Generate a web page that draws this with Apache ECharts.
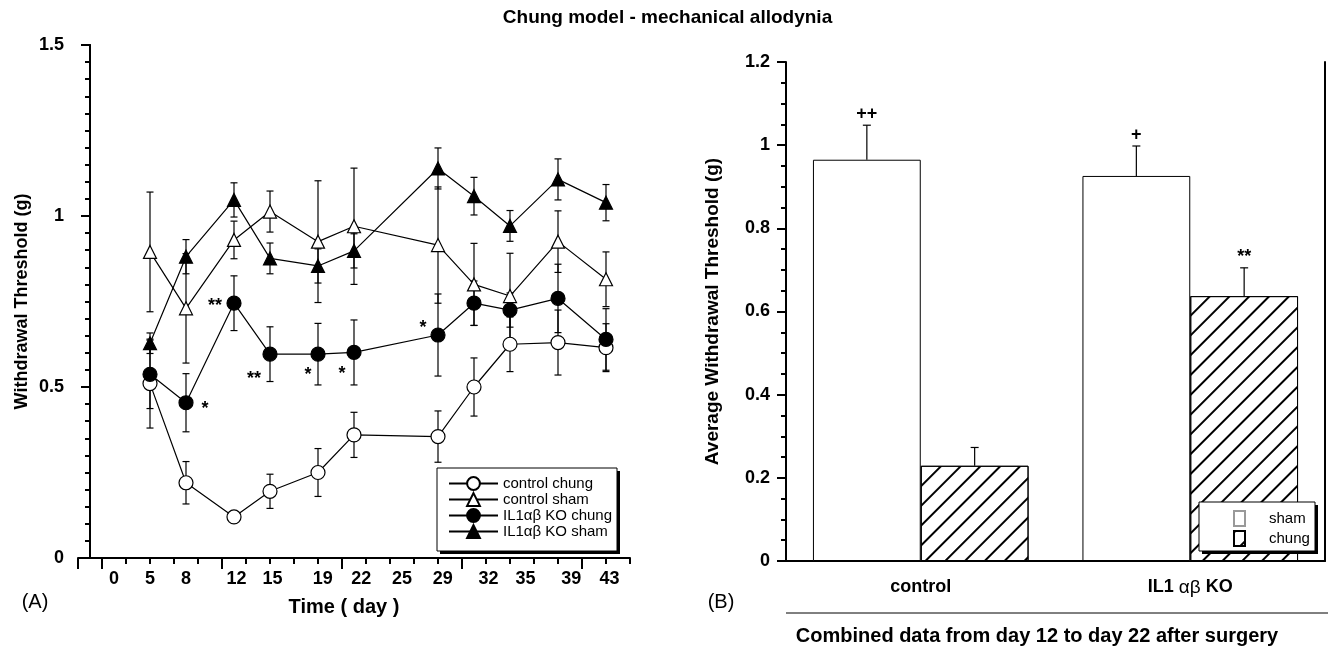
<!DOCTYPE html>
<html>
<head>
<meta charset="utf-8">
<script src="https://cdn.jsdelivr.net/npm/echarts@6/dist/echarts.min.js"></script>
<style>
  html, body { margin: 0; padding: 0; background: #fff; }
  #chart { width: 1335px; height: 646px; }
</style>
</head>
<body>
<div id="chart"></div>
<script>
// (A) time course, mean +/- SEM
var days = [5, 8, 12, 15, 19, 22, 29, 32, 35, 39, 43];
var controlChung = [0.51, 0.22, 0.12, 0.195, 0.25, 0.36, 0.355, 0.50, 0.625, 0.63, 0.615];
var controlChungErr = [0.13, 0.062, 0.015, 0.05, 0.07, 0.066, 0.075, 0.085, 0.08, 0.095, 0.07];
var controlSham = [0.895, 0.73, 0.93, 1.013, 0.925, 0.97, 0.915, 0.80, 0.766, 0.925, 0.815];
var controlShamErr = [0.175, 0.16, 0.055, 0.06, 0.178, 0.17, 0.17, 0.12, 0.125, 0.09, 0.08];
var koChung = [0.537, 0.454, 0.745, 0.596, 0.596, 0.601, 0.652, 0.745, 0.725, 0.759, 0.639];
var koChungErr = [0.1, 0.085, 0.08, 0.08, 0.09, 0.095, 0.12, 0.065, 0.05, 0.1, 0.09];
var koSham = [0.628, 0.881, 1.047, 0.876, 0.854, 0.898, 1.139, 1.058, 0.971, 1.107, 1.039];
var koShamErr = [0.03, 0.05, 0.05, 0.045, 0.05, 0.05, 0.06, 0.055, 0.045, 0.06, 0.053];
var koChungSig = ['', '*', '**', '**', '*', '*', '*', '', '', '', ''];

// x tick labels of (A) sit a bit off their days in the original
var xTickLabels = ['0', '5', '8', '12', '15', '19', '22', '25', '29', '32', '35', '39', '43'];
var xTickAt = [2, 5, 8, 12.2, 15.2, 19.4, 22.6, 26, 29.4, 33.2, 36.3, 40.1, 43.3];
var xMajorTicks = [-1, 1, 11, 21, 31, 41];

// (B) combined day 12 - 22
var groups = ['control', 'IL1 αβ KO'];
var shamMean = [0.965, 0.926];
var shamErr = [0.083, 0.072];
var chungMean = [0.229, 0.637];
var chungErr = [0.044, 0.068];
var shamSig = ['++', '+'];
var chungSig = ['', '**'];

var FONT = "'Liberation Sans', Arial, sans-serif";
var sigOffset = [[0, 0], [19, 6], [-19, 3], [-16, 25], [-10, 21], [-12, 22], [-15, -7]];

function seg(x1, y1, x2, y2) {
  return { type: 'line', shape: { x1: x1, y1: y1, x2: x2, y2: y2 }, style: { stroke: '#000', lineWidth: 1.2 } };
}

function lineSeries(name, values, symbol, fill, sigs) {
  return {
    name: name,
    type: 'line',
    xAxisIndex: 0,
    yAxisIndex: 0,
    z: 3,
    symbol: symbol,
    symbolSize: symbol === 'circle' ? 14 : 13,
    itemStyle: { color: fill, borderColor: '#000', borderWidth: 1.2 },
    lineStyle: { color: '#000', width: 1.2 },
    data: days.map(function (d, i) {
      var item = { value: [d, values[i]] };
      if (sigs && sigs[i]) {
        item.label = {
          show: true, position: 'inside', formatter: sigs[i], offset: sigOffset[i],
          color: '#000', fontFamily: FONT, fontWeight: 'bold', fontSize: 18
        };
      }
      return item;
    })
  };
}

// vertical error bar with caps on both ends
function errSeries(values, errs) {
  return {
    type: 'custom',
    xAxisIndex: 0,
    yAxisIndex: 0,
    z: 2,
    silent: true,
    data: days.map(function (d, i) { return [d, values[i] - errs[i], values[i] + errs[i]]; }),
    renderItem: function (params, api) {
      var lo = api.coord([api.value(0), api.value(1)]);
      var hi = api.coord([api.value(0), api.value(2)]);
      var c = 3.5;
      return {
        type: 'group',
        children: [
          seg(lo[0], lo[1], hi[0], hi[1]),
          seg(lo[0] - c, lo[1], lo[0] + c, lo[1]),
          seg(hi[0] - c, hi[1], hi[0] + c, hi[1])
        ]
      };
    }
  };
}

// bar error bars: upward only, with the significance mark above
function barErrSeries(means, errs, sigs, side) {
  return {
    type: 'custom',
    xAxisIndex: 2,
    yAxisIndex: 2,
    z: 4,
    silent: true,
    data: means.map(function (m, i) { return [i, m, m + errs[i]]; }),
    renderItem: function (params, api) {
      var band = api.coord([1, 0])[0] - api.coord([0, 0])[0];
      var b = api.coord([api.value(0), api.value(1)]);
      var t = api.coord([api.value(0), api.value(2)]);
      var x = b[0] + side * band * 0.2;
      var c = 4;
      var kids = [seg(x, b[1], x, t[1]), seg(x - c, t[1], x + c, t[1])];
      var s = sigs[params.dataIndex];
      if (s) {
        kids.push({
          type: 'text',
          style: { text: s, x: x, y: t[1] - 2, align: 'center', verticalAlign: 'bottom',
                   font: 'bold 18px ' + FONT, fill: '#000' }
        });
      }
      return { type: 'group', children: kids };
    }
  };
}

// legend frame with a hard drop shadow
function frame(x, y, w, h) {
  return [
    { type: 'rect', z: 10, shape: { x: x + 3, y: y + 3, width: w, height: h }, style: { fill: '#000' } },
    { type: 'rect', z: 10, shape: { x: x, y: y, width: w, height: h }, style: { fill: '#fff', stroke: '#000', lineWidth: 1 } }
  ];
}

var tickFont = { color: '#000', fontFamily: FONT, fontWeight: 'bold', fontSize: 18 };
var axisBlack = { show: true, lineStyle: { color: '#000', width: 2 } };

var option = {
  animation: false,
  backgroundColor: '#fff',
  title: {
    text: 'Chung model - mechanical allodynia',
    left: 'center',
    top: 8,
    padding: 0,
    textStyle: { fontFamily: FONT, fontWeight: 'bold', fontSize: 19, color: '#000' }
  },
  grid: [
    { left: 78, top: 45, width: 552, height: 513 },
    { left: 786, top: 62, width: 539, height: 499 }
  ],
  legend: [
    {
      data: ['control chung', 'control sham', 'IL1αβ KO chung', 'IL1αβ KO sham'],
      orient: 'vertical',
      left: 437,
      top: 468,
      z: 11,
      itemWidth: 49,
      itemHeight: 16,
      itemGap: 1,
      padding: [8, 9, 8, 11],
      selectedMode: false,
      textStyle: { fontFamily: FONT, fontSize: 15, color: '#000' }
    },
    {
      data: [{ name: 'sham', itemStyle: { borderColor: '#999' } }, 'chung'],
      orient: 'vertical',
      left: 1199,
      top: 502,
      z: 11,
      icon: 'rect',
      itemWidth: 11,
      itemHeight: 15,
      itemGap: 3,
      padding: [8, 6, 8, 34],
      selectedMode: false,
      textStyle: { fontFamily: FONT, fontSize: 15, color: '#000', padding: [0, 0, 0, 19] }
    }
  ],
  xAxis: [
    {
      gridIndex: 0, type: 'value', min: -1, max: 45, interval: 2,
      axisLine: axisBlack,
      axisTick: { show: true, length: 6, lineStyle: { color: '#000', width: 2 } },
      axisLabel: { show: false },
      splitLine: { show: false }
    },
    {
      gridIndex: 0, type: 'value', min: -1, max: 45, position: 'bottom',
      axisLine: { show: false },
      axisTick: { show: true, length: 11, customValues: xMajorTicks, lineStyle: { color: '#000', width: 2 } },
      axisLabel: Object.assign({
        margin: 12,
        customValues: xTickAt,
        formatter: function (v) { return xTickLabels[xTickAt.indexOf(v)]; }
      }, tickFont),
      splitLine: { show: false }
    },
    {
      gridIndex: 1, type: 'category', data: groups,
      axisLine: axisBlack,
      axisTick: { show: false },
      axisLabel: Object.assign({
        margin: 17,
        formatter: function (v) { return v.replace('αβ', '{g|αβ}'); },
        rich: { g: { fontFamily: FONT, fontSize: 19, fontWeight: 'normal', color: '#000' } }
      }, tickFont)
    }
  ],
  yAxis: [
    {
      gridIndex: 0, type: 'value', min: 0, max: 1.5, interval: 0.5,
      name: 'Withdrawal Threshold (g)', nameLocation: 'middle', nameGap: 47, nameRotate: 90,
      nameTextStyle: { fontFamily: FONT, fontWeight: 'bold', fontSize: 18, color: '#000' },
      axisLine: axisBlack,
      axisTick: { show: true, length: 9, lineStyle: { color: '#000', width: 2 } },
      minorTick: { show: true, splitNumber: 10, length: 5, lineStyle: { color: '#000', width: 2 } },
      axisLabel: Object.assign({ margin: 14 }, tickFont),
      splitLine: { show: false }
    },
    {
      gridIndex: 0, type: 'value', min: 0, max: 1.5, position: 'right',
      axisLine: axisBlack, axisTick: { show: false }, axisLabel: { show: false }, splitLine: { show: false }
    },
    {
      gridIndex: 1, type: 'value', min: 0, max: 1.2, interval: 0.2,
      name: 'Average Withdrawal Threshold (g)', nameLocation: 'middle', nameGap: 64, nameRotate: 90,
      nameTextStyle: { fontFamily: FONT, fontWeight: 'bold', fontSize: 19, color: '#000' },
      axisLine: axisBlack,
      axisTick: { show: true, length: 9, lineStyle: { color: '#000', width: 2 } },
      minorTick: { show: true, splitNumber: 4, length: 5, lineStyle: { color: '#000', width: 2 } },
      axisLabel: Object.assign({ margin: 16 }, tickFont),
      splitLine: { show: false }
    },
    {
      gridIndex: 1, type: 'value', min: 0, max: 1.2, position: 'right',
      axisLine: axisBlack, axisTick: { show: false }, axisLabel: { show: false }, splitLine: { show: false }
    }
  ],
  graphic: [
    { type: 'text', x: 35, y: 602, style: { text: '(A)', font: '20px ' + FONT, fill: '#000', align: 'center', verticalAlign: 'middle' } },
    { type: 'text', x: 344, y: 607, style: { text: 'Time ( day )', font: 'bold 20px ' + FONT, fill: '#000', align: 'center', verticalAlign: 'middle' } },
    { type: 'text', x: 721, y: 602, style: { text: '(B)', font: '20px ' + FONT, fill: '#000', align: 'center', verticalAlign: 'middle' } },
    { type: 'line', shape: { x1: 786, y1: 613, x2: 1328, y2: 613 }, style: { stroke: '#000', lineWidth: 1 } },
    { type: 'text', x: 1037, y: 636, style: { text: 'Combined data from day 12 to day 22 after surgery', font: 'bold 20px ' + FONT, fill: '#000', align: 'center', verticalAlign: 'middle' } }
  ].concat(frame(437, 468, 180, 83), frame(1199, 502, 116, 49)),
  series: [
    errSeries(controlChung, controlChungErr),
    errSeries(controlSham, controlShamErr),
    errSeries(koChung, koChungErr),
    errSeries(koSham, koShamErr),
    lineSeries('control chung', controlChung, 'circle', '#fff'),
    lineSeries('control sham', controlSham, 'triangle', '#fff'),
    lineSeries('IL1αβ KO chung', koChung, 'circle', '#000', koChungSig),
    lineSeries('IL1αβ KO sham', koSham, 'triangle', '#000'),
    {
      name: 'sham', type: 'bar', xAxisIndex: 2, yAxisIndex: 2,
      barWidth: '40%', barGap: '0%',
      itemStyle: { color: '#fff', borderColor: '#000', borderWidth: 1 },
      data: shamMean
    },
    {
      name: 'chung', type: 'bar', xAxisIndex: 2, yAxisIndex: 2,
      barWidth: '40%', barGap: '0%',
      itemStyle: {
        color: '#fff', borderColor: '#000', borderWidth: 1,
        decal: { symbol: 'rect', symbolSize: 1, dashArrayX: [1, 0], dashArrayY: [2, 12], rotation: -Math.PI / 4, color: '#000' }
      },
      data: chungMean
    },
    barErrSeries(shamMean, shamErr, shamSig, -1),
    barErrSeries(chungMean, chungErr, chungSig, 1)
  ]
};

var chart = echarts.init(document.getElementById('chart'));
chart.setOption(option);
</script>
</body>
</html>
